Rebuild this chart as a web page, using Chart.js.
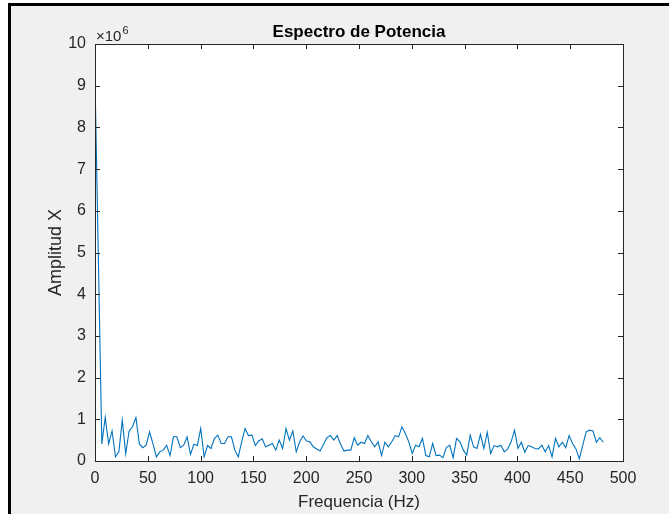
<!DOCTYPE html>
<html>
<head>
<meta charset="utf-8">
<script src="https://cdn.jsdelivr.net/npm/chart.js@4.4.1/dist/chart.umd.min.js"></script>
<style>
  html, body { margin: 0; padding: 0; background: #ffffff; }
  #wrap { position: relative; width: 669px; height: 514px; }
  canvas { position: absolute; left: 0; top: 0; }
</style>
</head>
<body>
<div id="wrap"><canvas id="c" width="669" height="514"></canvas></div>
<script>
// ---- data ----
const chartTitle = "Espectro de Potencia";
const xAxisTitle = "Frequencia (Hz)";
const yAxisTitle = "Amplitud X";
const yExponentLabel = "\u00d710";
const yExponent = "6";
const freqStepHz = 3.23;            // spacing of the spectrum bins
const xTickValues = [0, 50, 100, 150, 200, 250, 300, 350, 400, 450, 500];
const yTickValues = [0, 1, 2, 3, 4, 5, 6, 7, 8, 9, 10];
// amplitude of each bin, in units of 10^6
const amplitude = [
  9.14, 4.80, 0.41, 1.05, 0.41, 0.72, 0.10, 0.22, 0.98, 0.17,
  0.72, 0.82, 1.04, 0.41, 0.32, 0.38, 0.70, 0.41, 0.10, 0.22,
  0.26, 0.38, 0.13, 0.58, 0.58, 0.32, 0.38, 0.58, 0.16, 0.40,
  0.37, 0.78, 0.10, 0.37, 0.30, 0.54, 0.62, 0.42, 0.42, 0.58,
  0.58, 0.26, 0.10, 0.46, 0.78, 0.61, 0.62, 0.37, 0.48, 0.53,
  0.34, 0.38, 0.42, 0.26, 0.50, 0.30, 0.78, 0.50, 0.72, 0.22,
  0.46, 0.60, 0.48, 0.46, 0.34, 0.29, 0.24, 0.40, 0.56, 0.61,
  0.50, 0.61, 0.40, 0.24, 0.26, 0.26, 0.56, 0.38, 0.45, 0.42,
  0.61, 0.46, 0.34, 0.46, 0.13, 0.45, 0.34, 0.46, 0.61, 0.58,
  0.82, 0.66, 0.46, 0.18, 0.38, 0.34, 0.54, 0.13, 0.10, 0.42,
  0.13, 0.14, 0.08, 0.32, 0.38, 0.08, 0.54, 0.46, 0.26, 0.14,
  0.62, 0.34, 0.30, 0.64, 0.30, 0.69, 0.18, 0.37, 0.34, 0.38,
  0.22, 0.29, 0.46, 0.74, 0.30, 0.45, 0.21, 0.37, 0.34, 0.30,
  0.29, 0.38, 0.22, 0.37, 0.10, 0.54, 0.34, 0.45, 0.32, 0.61,
  0.42, 0.29, 0.05, 0.38, 0.70, 0.74, 0.72, 0.45, 0.56, 0.45
];

const points = amplitude.map((v, i) => ({ x: i * freqStepHz, y: v }));

const AX = '#262626';
const FONT = '"Liberation Sans", Arial, Helvetica, sans-serif';

const decor = {
  id: 'decor',
  beforeDraw(chart) {
    const ctx = chart.ctx;
    ctx.save();
    ctx.fillStyle = '#ffffff';
    ctx.fillRect(0, 0, chart.width, chart.height);
    ctx.fillStyle = '#f0f0f0';
    ctx.fillRect(8, 3, chart.width - 8, chart.height - 3);
    ctx.fillStyle = '#000000';
    ctx.fillRect(8, 3, 3, chart.height - 3);
    ctx.fillRect(8, 3, chart.width - 8, 3);
    const a = chart.chartArea;
    ctx.fillStyle = '#ffffff';
    ctx.fillRect(a.left, a.top, a.right - a.left, a.bottom - a.top);
    ctx.restore();
  },
  afterDraw(chart) {
    const ctx = chart.ctx;
    const a = chart.chartArea;
    const xs = chart.scales.x, ys = chart.scales.y;
    ctx.save();
    ctx.strokeStyle = AX;
    ctx.lineWidth = 1;
    // box
    ctx.strokeRect(Math.round(a.left) + 0.5, Math.round(a.top) + 0.5,
                   Math.round(a.right - a.left), Math.round(a.bottom - a.top));
    // inward ticks
    const tl = 5;
    ctx.beginPath();
    xTickValues.forEach(v => {
      const px = Math.round(xs.getPixelForValue(v)) + 0.5;
      ctx.moveTo(px, a.bottom); ctx.lineTo(px, a.bottom - tl);
      ctx.moveTo(px, a.top); ctx.lineTo(px, a.top + tl);
    });
    yTickValues.forEach(v => {
      const py = Math.round(ys.getPixelForValue(v)) + 0.5;
      ctx.moveTo(a.left, py); ctx.lineTo(a.left + tl, py);
      ctx.moveTo(a.right, py); ctx.lineTo(a.right - tl, py);
    });
    ctx.stroke();
    // title
    ctx.fillStyle = '#000000';
    ctx.font = 'bold 17px ' + FONT;
    ctx.textAlign = 'center';
    ctx.textBaseline = 'alphabetic';
    ctx.fillText(chartTitle, (a.left + a.right) / 2, 37);
    // axis titles
    ctx.fillStyle = AX;
    ctx.font = '17px ' + FONT;
    ctx.fillText(xAxisTitle, (a.left + a.right) / 2, 507);
    ctx.save();
    ctx.translate(61, (a.top + a.bottom) / 2);
    ctx.rotate(-Math.PI / 2);
    ctx.font = '18px ' + FONT;
    ctx.fillText(yAxisTitle, 0, 0);
    ctx.restore();
    // exponent
    ctx.textAlign = 'left';
    ctx.font = '15px ' + FONT;
    ctx.fillText(yExponentLabel, a.left + 1, 41);
    const w = ctx.measureText(yExponentLabel).width;
    ctx.font = '11px ' + FONT;
    ctx.fillText(yExponent, a.left + 1 + w + 1, 34);
    ctx.restore();
  }
};

new Chart(document.getElementById('c'), {
  type: 'line',
  data: {
    datasets: [{
      data: points,
      borderColor: '#0072BD',
      borderWidth: 1.1,
      pointRadius: 0,
      tension: 0,
      fill: false
    }]
  },
  options: {
    responsive: false,
    animation: false,
    events: [],
    layout: { padding: { left: 0, top: 44, right: 46, bottom: 0 } },
    plugins: { legend: { display: false }, tooltip: { enabled: false }, title: { display: false } },
    scales: {
      x: {
        type: 'linear', min: 0, max: 500,
        afterFit(s) { s.height = 53; },
        afterBuildTicks(s) { s.ticks = xTickValues.map(v => ({ value: v })); },
        ticks: { color: AX, font: { family: FONT, size: 16 }, padding: 8, maxRotation: 0, autoSkip: false },
        grid: { display: false, drawTicks: false },
        border: { display: false }
      },
      y: {
        type: 'linear', min: 0, max: 10,
        afterFit(s) { s.width = 95; },
        afterBuildTicks(s) { s.ticks = yTickValues.map(v => ({ value: v })); },
        ticks: { color: AX, font: { family: FONT, size: 16 }, padding: 9, autoSkip: false },
        grid: { display: false, drawTicks: false },
        border: { display: false }
      }
    }
  },
  plugins: [decor]
});
</script>
</body>
</html>
